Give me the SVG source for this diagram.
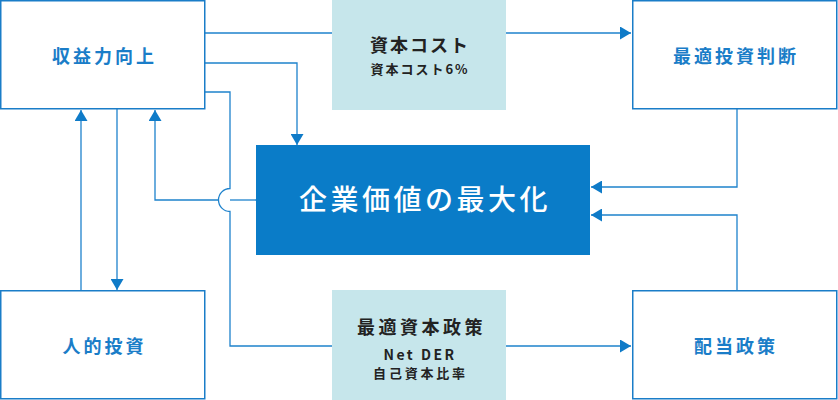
<svg xmlns="http://www.w3.org/2000/svg" width="838" height="400" viewBox="0 0 838 400">
<style>
.box{fill:#fff;stroke:#1a7dc8;stroke-width:1.5}
.lbl{font-family:"Noto Sans CJK JP","Noto Sans",sans-serif;font-size:18px;font-weight:700;fill:#1a7dc8;letter-spacing:3px;text-anchor:middle}
.lt{fill:#c6e6eb}
.dk{font-family:"Noto Sans CJK JP","Noto Sans",sans-serif;fill:#222;text-anchor:middle;font-weight:700}
.ln{fill:none;stroke:#1e82cc;stroke-width:1.3}
</style>
<defs>
<marker id="ah" markerUnits="userSpaceOnUse" markerWidth="12" markerHeight="13" refX="11" refY="6.5" orient="auto" viewBox="0 0 12 13">
<path d="M0,0 L11,6.5 L0,13 z" fill="#0f7bc8"/>
</marker>
</defs>
<rect width="838" height="400" fill="#fff"/>
<g id="connectors">
<path class="ln" d="M205 33 H631" marker-end="url(#ah)"/>
<path class="ln" d="M205 63 H297 V145" marker-end="url(#ah)"/>
<path class="ln" d="M205 92 H230 V188.5 A11.5 11.5 0 0 0 230 211.5 V346 H631" marker-end="url(#ah)"/>
<path class="ln" d="M256 200 H230"/>
<path class="ln" d="M218.5 200 H155 V110" marker-end="url(#ah)"/>
<path class="ln" d="M81 290 V110" marker-end="url(#ah)"/>
<path class="ln" d="M117 109 V290" marker-end="url(#ah)"/>
<path class="ln" d="M737 109 V187 H591" marker-end="url(#ah)"/>
<path class="ln" d="M737 290 V215 H591" marker-end="url(#ah)"/>
</g>
<g id="revenue">
<rect class="box" x="0.75" y="0.75" width="204" height="108"/>
<text class="lbl" x="104.5" y="63">収益力向上</text>
</g>
<g id="capital-cost">
<rect class="lt" x="332" y="0" width="174" height="110"/>
<text class="dk" x="420" y="52" font-size="18" letter-spacing="2">資本コスト</text>
<text class="dk" x="420" y="74" font-size="13" letter-spacing="2">資本コスト6%</text>
</g>
<g id="optimal-investment">
<rect class="box" x="632.75" y="0.75" width="204" height="108"/>
<text class="lbl" x="736" y="63">最適投資判断</text>
</g>
<g id="enterprise-value">
<rect x="256" y="145" width="334" height="110" fill="#0a7cc8"/>
<text x="425" y="210" font-family="'Noto Sans CJK JP','Noto Sans',sans-serif" font-size="28" font-weight="500" fill="#fff" text-anchor="middle" letter-spacing="3.5">企業価値の最大化</text>
</g>
<g id="human-investment">
<rect class="box" x="0.75" y="290.75" width="204" height="108"/>
<text class="lbl" x="104.5" y="353">人的投資</text>
</g>
<g id="capital-policy">
<rect class="lt" x="332" y="290" width="174" height="110"/>
<text class="dk" x="421.5" y="334" font-size="18" letter-spacing="3.5">最適資本政策</text>
<text class="dk" x="420" y="360" font-size="14" letter-spacing="2.5" font-family="'Liberation Sans',sans-serif">Net DER</text>
<text class="dk" x="420.5" y="378" font-size="13" letter-spacing="2.8">自己資本比率</text>
</g>
<g id="dividend">
<rect class="box" x="632.75" y="290.75" width="204" height="108"/>
<text class="lbl" x="736" y="353">配当政策</text>
</g>
</svg>
